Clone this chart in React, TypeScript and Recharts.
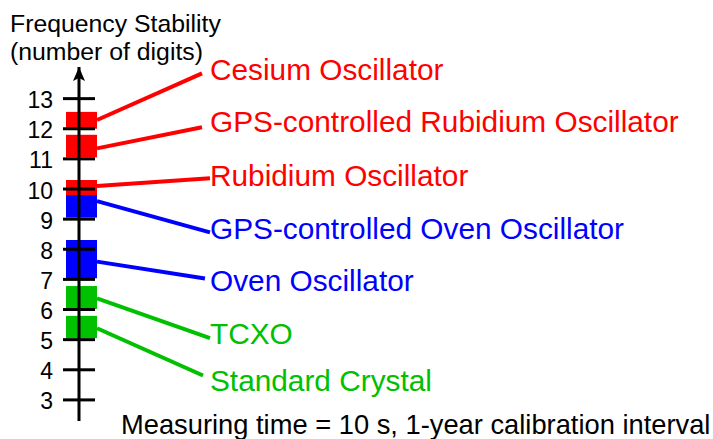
import React from 'react';
import {
  ComposedChart,
  XAxis,
  YAxis,
  Line,
  Scatter,
  ReferenceArea,
  ReferenceDot
} from 'recharts';

// stability classes, top to bottom
const names = [
  'Cesium Oscillator',
  'GPS-controlled Rubidium Oscillator',
  'Rubidium Oscillator',
  'GPS-controlled Oven Oscillator',
  'Oven Oscillator',
  'TCXO',
  'Standard Crystal'
];
// range of digits covered by each class
const lows = [12.0, 11.05, 9.8, 9.05, 7.04, 6.02, 5.05];
const highs = [12.56, 11.8, 10.3, 9.8, 8.31, 6.78, 5.79];
// connector line: where it leaves the bar and where it meets the label
const lineFrom = [12.29, 11.35, 10.1, 9.6, 7.59, 6.37, 5.38];
const lineTo = [13.84, 12.05, 10.36, 8.56, 7.03, 5.05, 3.81];
const lineToX = [19.4, 19.4, 20.66, 20.66, 19.87, 20.66, 19.56];
// label centre on the digits scale
const labelAt = [13.99, 12.24, 10.47, 8.7, 6.98, 5.21, 3.66];
const yTicks = [3, 4, 5, 6, 7, 8, 9, 10, 11, 12, 13];

const RED = '#FF0000';
const BLUE = '#0000FF';
const GREEN = '#00C000';
const colors = [RED, RED, RED, BLUE, BLUE, GREEN, GREEN];

const FONT = '"Liberation Sans", Arial, sans-serif';
const BAR_LEFT = -2.05;
const BAR_RIGHT = 2.84;
const LABEL_X = 20.66;
const TICK_SIZE = 16;
const TICK_MARGIN = 10;

const labelData = names.map((name, i) => ({ x: LABEL_X, y: labelAt[i], name, color: colors[i] }));

const AxisTick = (props: any) => {
  const { x, y, payload } = props;
  const x0 = x + TICK_MARGIN;
  return (
    <g>
      <line x1={x0} x2={x0 + TICK_SIZE * 2} y1={y} y2={y} stroke="#000" strokeWidth={3} />
      <text x={x} y={y} dy={9.5} textAnchor="end" fill="#000" fontSize={23} fontFamily={FONT}>
        {payload.value}
      </text>
    </g>
  );
};

const Arrow = (props: any) => {
  const { cx, cy } = props;
  return (
    <path
      d={`M${cx},${cy} L${cx + 6},${cy + 14} L${cx},${cy + 11} L${cx - 6},${cy + 14} Z`}
      fill="#000"
    />
  );
};

const LabelText = (props: any) => {
  const { cx, cy, payload } = props;
  return (
    <text x={cx} y={cy + 10.7} fill={payload.color} fontSize={29.8} fontFamily={FONT}>
      {payload.name}
    </text>
  );
};

export default function App() {
  return (
    <div style={{ position: 'absolute', left: 0, top: 0, width: 713, height: 439, background: '#fff' }}>
      <div
        style={{
          position: 'absolute',
          left: 10,
          top: 10,
          fontFamily: FONT,
          fontSize: 24.8,
          lineHeight: '28px',
          color: '#000',
          whiteSpace: 'nowrap'
        }}
      >
        Frequency Stability
        <br />
        (number of digits)
      </div>
      <ComposedChart
        width={713}
        height={439}
        margin={{ top: 67, right: 0, bottom: 18, left: 0 }}
      >
        <XAxis dataKey="x" type="number" domain={[0, 100]} hide />
        {names.map((n, i) => (
          <ReferenceArea
            key={n}
            x1={BAR_LEFT}
            x2={BAR_RIGHT}
            y1={lows[i]}
            y2={highs[i]}
            fill={colors[i]}
            fillOpacity={1}
            stroke="none"
            ifOverflow="visible"
          />
        ))}
        <YAxis
          dataKey="y"
          type="number"
          domain={[2.3, 14.05]}
          ticks={yTicks}
          interval={0}
          width={79}
          axisLine={{ stroke: '#000', strokeWidth: 3 }}
          tickLine={false}
          tickSize={TICK_SIZE}
          tickMargin={TICK_MARGIN}
          tick={<AxisTick />}
        />
        {names.map((n, i) => (
          <Line
            key={'c' + n}
            data={[
              { x: BAR_RIGHT, y: lineFrom[i] },
              { x: lineToX[i], y: lineTo[i] }
            ]}
            dataKey="y"
            type="linear"
            stroke={colors[i]}
            strokeWidth={4}
            dot={false}
            activeDot={false}
            isAnimationActive={false}
          />
        ))}
        <Scatter data={labelData} shape={<LabelText />} isAnimationActive={false} />
        <ReferenceDot x={0} y={14.05} r={6} shape={<Arrow />} ifOverflow="visible" />
      </ComposedChart>
      <div
        style={{
          position: 'absolute',
          left: 121,
          top: 410,
          fontFamily: FONT,
          fontSize: 27.3,
          lineHeight: '30px',
          color: '#000',
          whiteSpace: 'nowrap'
        }}
      >
        Measuring time = 10 s, 1-year calibration interval
      </div>
    </div>
  );
}
